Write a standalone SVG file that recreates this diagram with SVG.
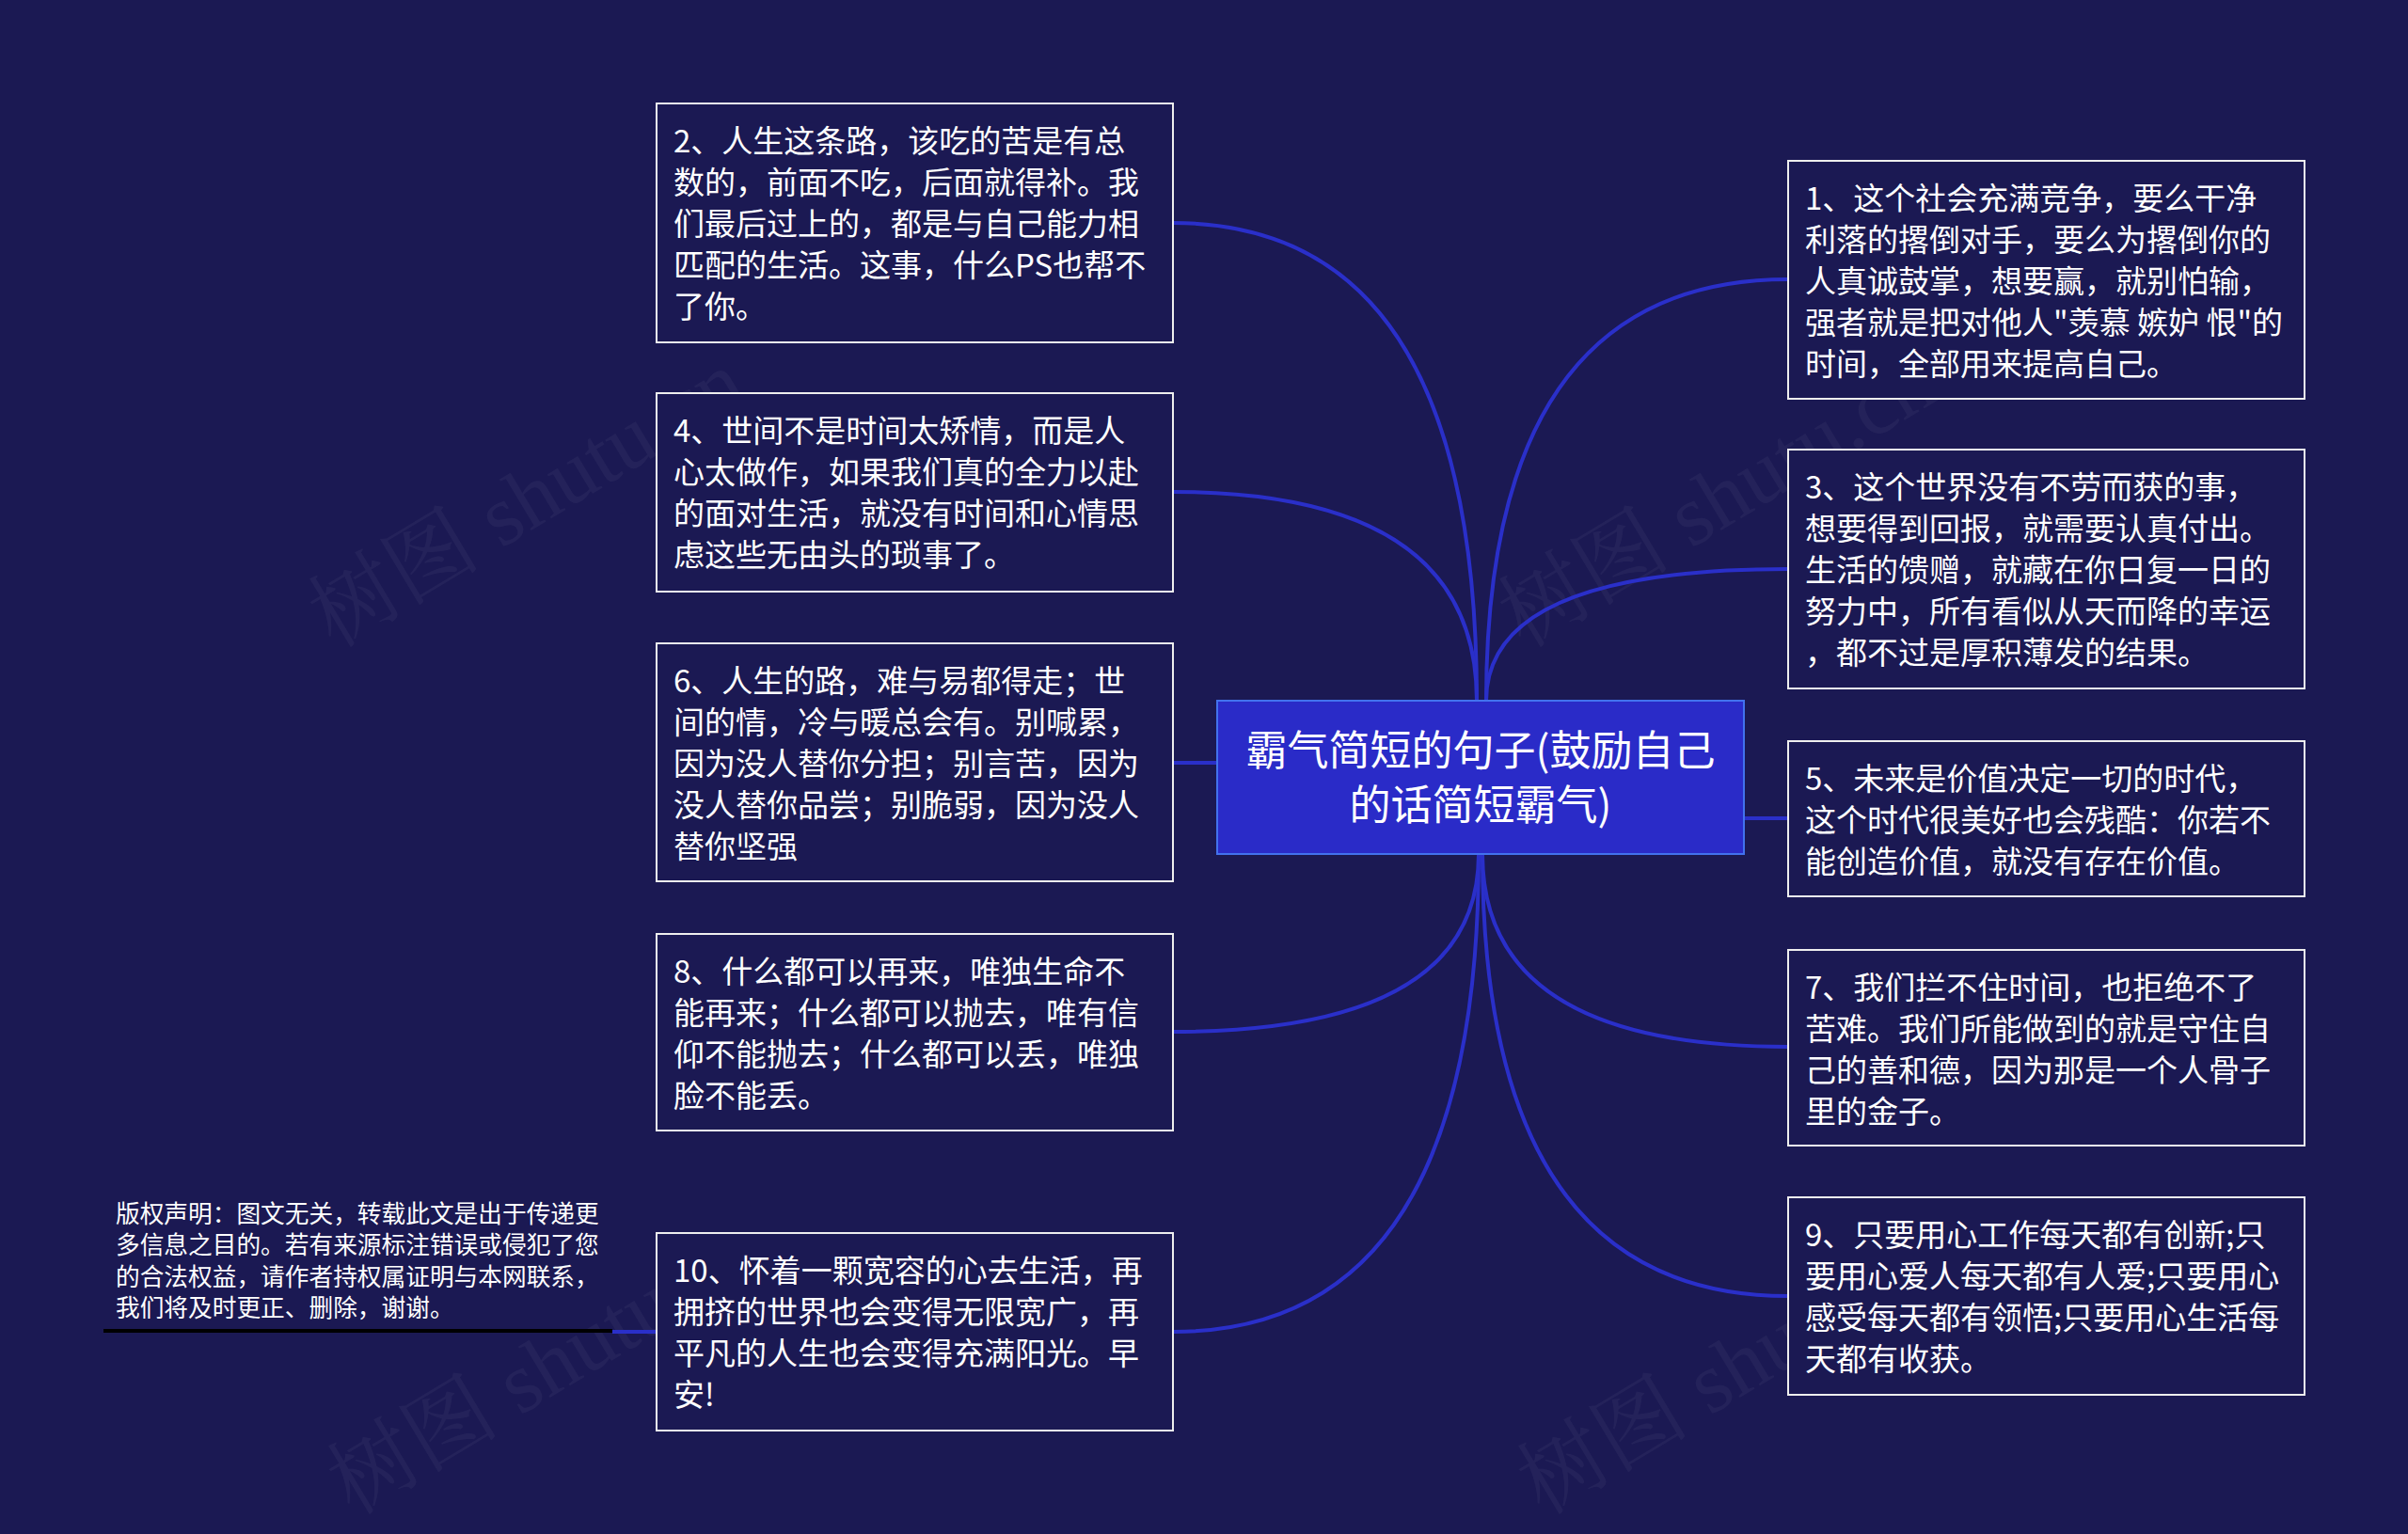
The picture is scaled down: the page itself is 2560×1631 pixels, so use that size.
<svg xmlns="http://www.w3.org/2000/svg" width="2560" height="1631" viewBox="0 0 2560 1631">
<style>
.bg{fill:#1b1953}
.node rect{fill:#1b1953;stroke:#eeeeee;stroke-width:2}
.t{font-family:"Microsoft YaHei","Noto Sans CJK SC","Noto Sans",sans-serif;font-size:33px;fill:#ffffff}
.ct{font-family:"Microsoft YaHei","Noto Sans CJK SC","Noto Sans",sans-serif;font-size:44px;fill:#ffffff;text-anchor:middle}
.cp{font-family:"Microsoft YaHei","Noto Sans CJK SC","Noto Sans",sans-serif;font-size:25.7px;fill:#ffffff}
.wm{font-family:"Liberation Serif","Noto Serif CJK SC","Noto Sans CJK SC",serif;font-size:92px;fill:#ffffff;fill-opacity:0.045}
#connectors path{fill:none;stroke:#2a2fc9;stroke-width:4}
</style>
<rect class="bg" x="0" y="0" width="2560" height="1631"/>
<g id="watermarks">
<text class="wm" transform="translate(355,690) rotate(-31)">树图 shutu.cn</text>
<text class="wm" transform="translate(1620,690) rotate(-31)">树图 shutu.cn</text>
<text class="wm" transform="translate(375,1612) rotate(-31)">树图 shutu.cn</text>
<text class="wm" transform="translate(1640,1612) rotate(-31)">树图 shutu.cn</text>
</g>
<g id="connectors">
<path d="M1570 745 Q1570 237 1247 237"/>
<path d="M1570 745 Q1570 523 1247 523"/>
<path d="M1247 811 L1294 811"/>
<path d="M1572 908 Q1572 1097 1247 1097"/>
<path d="M1572 908 Q1572 1416 1247 1416"/>
<path d="M1580 745 Q1580 297 1901 297"/>
<path d="M1580 745 Q1580 605 1901 605"/>
<path d="M1854 870 L1901 870"/>
<path d="M1576 908 Q1576 1113 1901 1113"/>
<path d="M1576 908 Q1576 1378 1901 1378"/>
<path d="M651 1416 L698 1416"/>
</g>
<g id="copyright">
<line x1="110" y1="1415" x2="651" y2="1415" stroke="#000000" stroke-width="4"/>
<text class="cp"><tspan x="123" y="1300">版权声明：图文无关，转载此文是出于传递更</tspan><tspan x="123" y="1333">多信息之目的。若有来源标注错误或侵犯了您</tspan><tspan x="123" y="1367">的合法权益，请作者持权属证明与本网联系，</tspan><tspan x="123" y="1400">我们将及时更正、删除，谢谢。</tspan></text>
</g>
<g id="center">
<rect x="1294" y="745" width="560" height="163" fill="#2a2bc8" stroke="#4272ee" stroke-width="2"/>
<text class="ct"><tspan x="1574" y="814">霸气简短的句子(鼓励自己</tspan><tspan x="1574" y="872">的话简短霸气)</tspan></text>
</g>
<g id="node2" class="node">
<rect x="698" y="110" width="549" height="254"/>
<text class="t"><tspan x="716" y="162">2、人生这条路，该吃的苦是有总</tspan><tspan x="716" y="206">数的，前面不吃，后面就得补。我</tspan><tspan x="716" y="250">们最后过上的，都是与自己能力相</tspan><tspan x="716" y="294">匹配的生活。这事，什么PS也帮不</tspan><tspan x="716" y="338">了你。</tspan></text>
</g>
<g id="node4" class="node">
<rect x="698" y="418" width="549" height="211"/>
<text class="t"><tspan x="716" y="470">4、世间不是时间太矫情，而是人</tspan><tspan x="716" y="514">心太做作，如果我们真的全力以赴</tspan><tspan x="716" y="558">的面对生活，就没有时间和心情思</tspan><tspan x="716" y="602">虑这些无由头的琐事了。</tspan></text>
</g>
<g id="node6" class="node">
<rect x="698" y="684" width="549" height="253"/>
<text class="t"><tspan x="716" y="736">6、人生的路，难与易都得走；世</tspan><tspan x="716" y="780">间的情，冷与暖总会有。别喊累，</tspan><tspan x="716" y="824">因为没人替你分担；别言苦，因为</tspan><tspan x="716" y="868">没人替你品尝；别脆弱，因为没人</tspan><tspan x="716" y="912">替你坚强</tspan></text>
</g>
<g id="node8" class="node">
<rect x="698" y="993" width="549" height="209"/>
<text class="t"><tspan x="716" y="1045">8、什么都可以再来，唯独生命不</tspan><tspan x="716" y="1089">能再来；什么都可以抛去，唯有信</tspan><tspan x="716" y="1133">仰不能抛去；什么都可以丢，唯独</tspan><tspan x="716" y="1177">脸不能丢。</tspan></text>
</g>
<g id="node10" class="node">
<rect x="698" y="1311" width="549" height="210"/>
<text class="t"><tspan x="716" y="1363">10、怀着一颗宽容的心去生活，再</tspan><tspan x="716" y="1407">拥挤的世界也会变得无限宽广，再</tspan><tspan x="716" y="1451">平凡的人生也会变得充满阳光。早</tspan><tspan x="716" y="1495">安!</tspan></text>
</g>
<g id="node1" class="node">
<rect x="1901" y="171" width="549" height="253"/>
<text class="t"><tspan x="1919" y="223">1、这个社会充满竞争，要么干净</tspan><tspan x="1919" y="267">利落的撂倒对手，要么为撂倒你的</tspan><tspan x="1919" y="311">人真诚鼓掌，想要赢，就别怕输，</tspan><tspan x="1919" y="355">强者就是把对他人"羡慕 嫉妒 恨"的</tspan><tspan x="1919" y="399">时间，全部用来提高自己。</tspan></text>
</g>
<g id="node3" class="node">
<rect x="1901" y="478" width="549" height="254"/>
<text class="t"><tspan x="1919" y="530">3、这个世界没有不劳而获的事，</tspan><tspan x="1919" y="574">想要得到回报，就需要认真付出。</tspan><tspan x="1919" y="618">生活的馈赠，就藏在你日复一日的</tspan><tspan x="1919" y="662">努力中，所有看似从天而降的幸运</tspan><tspan x="1919" y="706">，都不过是厚积薄发的结果。</tspan></text>
</g>
<g id="node5" class="node">
<rect x="1901" y="788" width="549" height="165"/>
<text class="t"><tspan x="1919" y="840">5、未来是价值决定一切的时代，</tspan><tspan x="1919" y="884">这个时代很美好也会残酷：你若不</tspan><tspan x="1919" y="928">能创造价值，就没有存在价值。</tspan></text>
</g>
<g id="node7" class="node">
<rect x="1901" y="1010" width="549" height="208"/>
<text class="t"><tspan x="1919" y="1062">7、我们拦不住时间，也拒绝不了</tspan><tspan x="1919" y="1106">苦难。我们所能做到的就是守住自</tspan><tspan x="1919" y="1150">己的善和德，因为那是一个人骨子</tspan><tspan x="1919" y="1194">里的金子。</tspan></text>
</g>
<g id="node9" class="node">
<rect x="1901" y="1273" width="549" height="210"/>
<text class="t"><tspan x="1919" y="1325">9、只要用心工作每天都有创新;只</tspan><tspan x="1919" y="1369">要用心爱人每天都有人爱;只要用心</tspan><tspan x="1919" y="1413">感受每天都有领悟;只要用心生活每</tspan><tspan x="1919" y="1457">天都有收获。</tspan></text>
</g>
</svg>
